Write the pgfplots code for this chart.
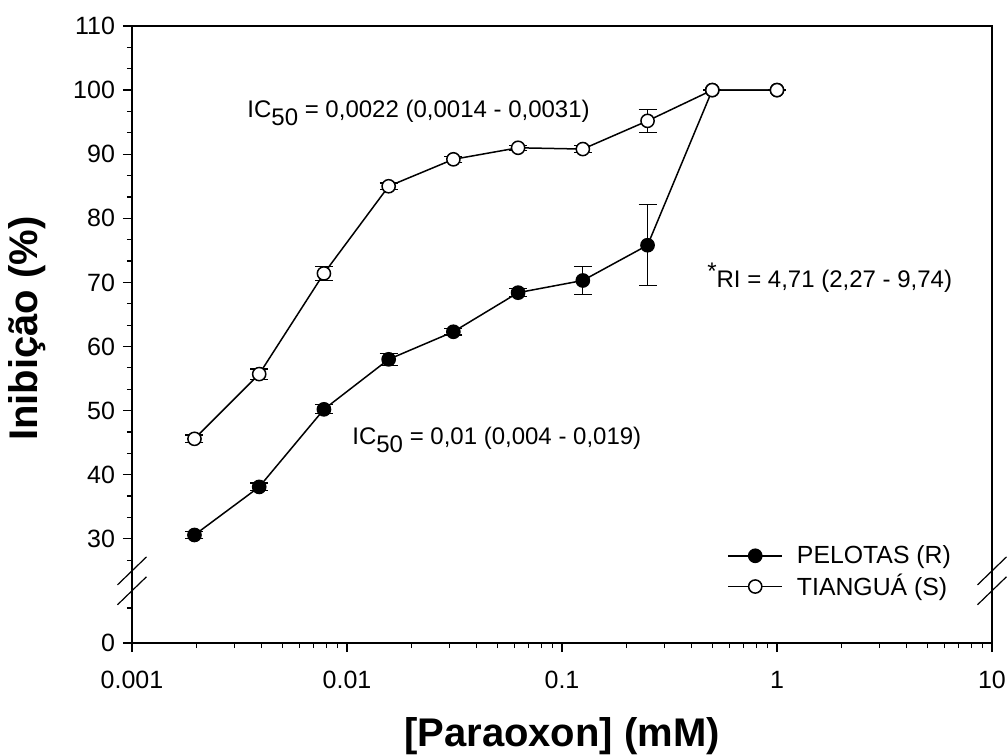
\documentclass[border=0pt]{standalone}
\usepackage{pgfplots}
\pgfplotsset{compat=1.18}
\usepackage{fontspec}
\setmainfont{Liberation Sans}

\newcommand{\annfont}{\fontsize{12}{14}\selectfont}
\newcommand{\tickfont}{\fontsize{12.5}{15}\selectfont}
\newcommand{\legfont}{\fontsize{12.4}{15}\selectfont}

\begin{document}
\begin{tikzpicture}
\begin{axis}[
    name=ax,
    scale only axis,
    width=430pt, height=308.5pt,
    xmode=log, xmin=0.001, xmax=10,
    ymin=13.75, ymax=110,
    xtick={0.001,0.01,0.1,1,10},
    xticklabels={0.001,0.01,0.1,1,10},
    minor xtick={0.002,0.003,0.004,0.005,0.006,0.007,0.008,0.009,
                 0.02,0.03,0.04,0.05,0.06,0.07,0.08,0.09,
                 0.2,0.3,0.4,0.5,0.6,0.7,0.8,0.9,
                 2,3,4,5,6,7,8,9},
    ytick={13.75,30,40,50,60,70,80,90,100,110},
    yticklabels={0,30,40,50,60,70,80,90,100,110},
    minor ytick={19.2,26.67,33.33,36.67,43.33,46.67,53.33,56.67,63.33,66.67,
                 73.33,76.67,83.33,86.67,93.33,96.67,103.33,106.67},
    tick align=outside, xtick pos=bottom, ytick pos=left,
    major tick length=4.5pt, minor tick length=2.5pt,
    tick style={black, line width=0.6pt},
    axis line style={line width=0.75pt},
    tick label style={font=\tickfont},
    xticklabel style={yshift=-6pt},
    yticklabel style={xshift=-0.5pt},
    /pgf/number format/assume math mode=true,
    xlabel={[Paraoxon] (mM)},
    ylabel={Inibição (\%)},
    label style={font=\fontsize{20}{24}\selectfont\bfseries},
    xlabel style={at={(rel axis cs:0.5,0)}, anchor=base, yshift=-51.5pt},
    ylabel style={at={(rel axis cs:-0.122,0.5097)}, anchor=center},
    clip=false,
    legend style={draw=none, fill=none, font=\legfont,
                  at={(rel axis cs:0.685,0.115)}, anchor=west,
                  row sep=0pt, column sep=5pt, legend cell align=left},
    legend image code/.code={\draw[#1, mark repeat=2, mark phase=2]
        plot coordinates {(0pt,0pt) (13.5pt,0pt) (27pt,0pt)};},
    error bars/y dir=both,
    error bars/y explicit,
    error bars/error bar style={line width=0.6pt, black},
    error bars/error mark options={rotate=90, black, mark size=4.5pt, line width=0.6pt},
]
% PELOTAS (R)
\addplot[black, line width=0.75pt, mark=*, mark size=3.3pt,
         mark options={fill=black}]
    coordinates {
        (0.001953,30.6) +- (0,0.6)
        (0.003906,38.1) +- (0,0.6)
        (0.0078125,50.2) +- (0,0.7)
        (0.015625,58.0) +- (0,0.9)
        (0.03125,62.3) +- (0,0.5)
        (0.0625,68.4) +- (0,0.6)
        (0.125,70.3) +- (0,2.2)
        (0.25,75.8) +- (0,6.3)
        (0.5,100) +- (0,0)
        (1,100) +- (0,0)
    };
% TIANGUA (S)
\addplot[black, line width=0.75pt, mark=*, mark size=3.3pt,
         mark options={fill=white}]
    coordinates {
        (0.001953,45.6) +- (0,0.6)
        (0.003906,55.7) +- (0,0.8)
        (0.0078125,71.4) +- (0,1.1)
        (0.015625,85.0) +- (0,0.5)
        (0.03125,89.2) +- (0,0.5)
        (0.0625,91.0) +- (0,0.4)
        (0.125,90.8) +- (0,0.5)
        (0.25,95.2) +- (0,1.8)
        (0.5,100) +- (0,0)
        (1,100) +- (0,0)
    };
\legend{PELOTAS (R), TIANGUÁ (S)}

\node[anchor=base west, font=\annfont, inner sep=0pt] at (axis cs:0.00343,95.8)
    {IC\raisebox{-4pt}{50} = 0,0022 (0,0014 - 0,0031)};
\node[anchor=base west, font=\annfont, inner sep=0pt] at (axis cs:0.01055,44.7)
    {IC\raisebox{-4pt}{50} = 0,01 (0,004 - 0,019)};
\node[anchor=base west, font=\annfont, inner sep=0pt] at (axis cs:0.472,69.2)
    {\raisebox{4pt}{*}RI = 4,71 (2,27 - 9,74)};

% axis break marks
\fill[white] (axis cs:0.001,21.9) ++(-2pt,0) rectangle ++(4pt,3.1*3.2pt);
\fill[white] (axis cs:10,21.9) ++(-2pt,0) rectangle ++(4pt,3.1*3.2pt);
\draw[line width=0.6pt] (axis cs:0.001,25) ++(-7.25pt,-7pt) -- ++(14.5pt,14pt);
\draw[line width=0.6pt] (axis cs:0.001,21.9) ++(-7.25pt,-7pt) -- ++(14.5pt,14pt);
\draw[line width=0.6pt] (axis cs:10,25) ++(-7.25pt,-7pt) -- ++(14.5pt,14pt);
\draw[line width=0.6pt] (axis cs:10,21.9) ++(-7.25pt,-7pt) -- ++(14.5pt,14pt);
\end{axis}
\pgfresetboundingbox
\path ([shift={(-66pt,-56.5pt)}]ax.south west) rectangle ([shift={(8pt,13pt)}]ax.north east);
\end{tikzpicture}
\end{document}
